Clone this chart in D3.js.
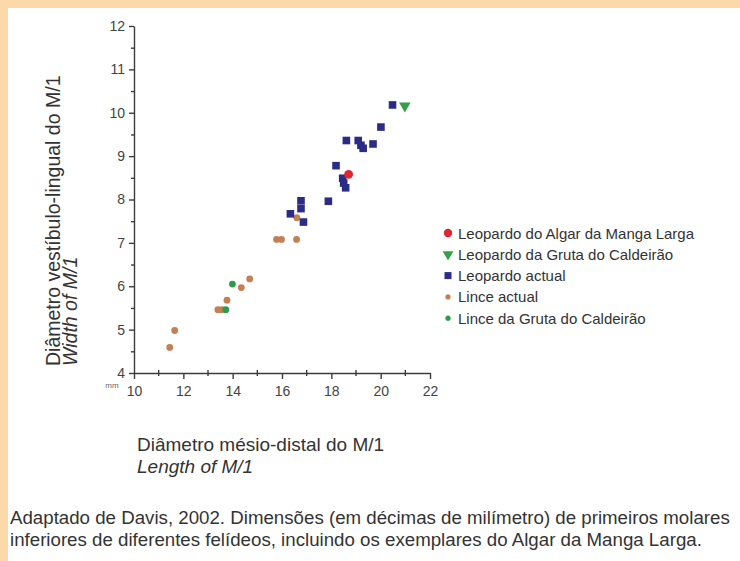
<!DOCTYPE html>
<html lang="pt">
<head>
  <meta charset="UTF-8">
  <title>Dimensões de M/1 em felídeos</title>
  <script src="https://d3js.org/d3.v7.min.js"></script>
  <style>
    body { margin: 0; background: #fff; }
    svg text { font-family: "Liberation Sans", Arial, sans-serif; fill: #333; }
    .axis path, .axis line { stroke: #3c3c3c; stroke-width: 1.4px; }
    .axis text { font-size: 14px; fill: #444; }
  </style>
</head>
<body>
  <svg id="chart" width="740" height="561"></svg>

  <script>
    // values
    const leopardoAlgar = [[18.7, 8.58]];
    const leopardoCaldeirao = [[20.98, 10.16]];
    const leopardoActual = [
      [20.48, 10.18], [20.01, 9.67], [18.61, 9.36], [19.09, 9.36], [19.2, 9.25],
      [19.29, 9.18], [19.69, 9.28], [18.19, 8.78], [18.46, 8.49], [18.5, 8.38],
      [18.58, 8.27], [16.77, 7.97], [17.88, 7.96], [16.77, 7.79], [16.34, 7.67],
      [16.87, 7.48]
    ];
    const linceActual = [
      [16.6, 7.58], [15.78, 7.08], [15.98, 7.08], [16.59, 7.08], [14.69, 6.17],
      [14.35, 5.97], [13.77, 5.68], [13.4, 5.46], [13.56, 5.46], [11.65, 4.98],
      [11.45, 4.59]
    ];
    const linceCaldeirao = [[13.99, 6.05], [13.72, 5.46]];

    const xMajor = [10, 12, 14, 16, 18, 20, 22];
    const xMinor = [11, 13, 15, 17, 19, 21];
    const yMajor = [4, 5, 6, 7, 8, 9, 10, 11, 12];
    const yMinor = [4.5, 5.5, 6.5, 7.5, 8.5, 9.5, 10.5, 11.5];

    const legendLabels = [
      "Leopardo do Algar da Manga Larga",
      "Leopardo da Gruta do Caldeirão",
      "Leopardo actual",
      "Lince actual",
      "Lince da Gruta do Caldeirão"
    ];

    const svg = d3.select("#chart");

    // peach frame on top and left
    svg.append("rect").attr("x", 0).attr("y", 0).attr("width", 740).attr("height", 8).attr("fill", "#fdd8a8");
    svg.append("rect").attr("x", 0).attr("y", 0).attr("width", 8).attr("height", 561).attr("fill", "#fdd8a8");

    const x = d3.scaleLinear().domain([10, 22]).range([134, 430]);
    const y = d3.scaleLinear().domain([4, 12]).range([373, 26]);

    // y axis
    svg.append("g")
      .attr("class", "axis")
      .attr("transform", "translate(134,0)")
      .call(d3.axisLeft(y).tickValues(yMajor).tickSize(5).tickSizeOuter(0).tickPadding(4).tickFormat(d3.format("d")));
    svg.append("g")
      .attr("class", "axis")
      .attr("transform", "translate(134,0)")
      .call(d3.axisLeft(y).tickValues(yMinor).tickSize(3).tickSizeOuter(0).tickFormat(""))
      .select(".domain").remove();

    // x axis
    svg.append("g")
      .attr("class", "axis")
      .attr("transform", "translate(0,373)")
      .call(d3.axisBottom(x).tickValues(xMajor).tickSize(6).tickSizeOuter(0).tickPadding(7).tickFormat(d3.format("d")));
    svg.append("g")
      .selectAll("line")
      .data(xMinor)
      .join("line")
      .attr("x1", d => x(d)).attr("x2", d => x(d))
      .attr("y1", 370).attr("y2", 376)
      .attr("stroke", "#3c3c3c").attr("stroke-width", 1.4);

    svg.append("text")
      .attr("x", 112).attr("y", 388)
      .attr("text-anchor", "middle")
      .style("font-size", "8px").style("fill", "#666")
      .text("mm");

    // axis titles
    const yTitle = svg.append("text")
      .attr("transform", "translate(60,366) rotate(-90)")
      .style("font-size", "19.5px");
    yTitle.append("tspan").attr("x", 0).attr("dy", 0).text("Diâmetro vestíbulo-lingual do M/1");
    yTitle.append("tspan").attr("x", 0).attr("dy", 17).style("font-style", "italic").text("Width of M/1");

    const xTitle = svg.append("text")
      .attr("x", 137).attr("y", 451)
      .style("font-size", "19px");
    xTitle.append("tspan").attr("x", 137).attr("dy", 0).text("Diâmetro mésio-distal do M/1");
    xTitle.append("tspan").attr("x", 137).attr("dy", 22).style("font-style", "italic").text("Length of M/1");

    // points
    const plot = svg.append("g");

    plot.selectAll(".lince")
      .data(linceActual)
      .join("circle")
      .attr("class", "lince")
      .attr("cx", d => x(d[0])).attr("cy", d => y(d[1]))
      .attr("r", 3.4)
      .attr("fill", "#c47f54");

    plot.selectAll(".lince-cald")
      .data(linceCaldeirao)
      .join("circle")
      .attr("class", "lince-cald")
      .attr("cx", d => x(d[0])).attr("cy", d => y(d[1]))
      .attr("r", 3.4)
      .attr("fill", "#2f9a4e");

    plot.selectAll(".leo")
      .data(leopardoActual)
      .join("rect")
      .attr("class", "leo")
      .attr("x", d => x(d[0]) - 3.8).attr("y", d => y(d[1]) - 3.8)
      .attr("width", 7.6).attr("height", 7.6)
      .attr("fill", "#2b2c86");

    plot.selectAll(".leo-algar")
      .data(leopardoAlgar)
      .join("circle")
      .attr("class", "leo-algar")
      .attr("cx", d => x(d[0])).attr("cy", d => y(d[1]))
      .attr("r", 4.4)
      .attr("fill", "#e0262e");

    const tri = d3.symbol().type(d3.symbolTriangle).size(58);
    plot.selectAll(".leo-cald")
      .data(leopardoCaldeirao)
      .join("path")
      .attr("class", "leo-cald")
      .attr("d", tri)
      .attr("transform", d => `translate(${x(d[0])},${y(d[1])}) rotate(180)`)
      .attr("fill", "#33a045");

    // legend
    const legend = svg.append("g").attr("transform", "translate(448,233)");
    const rows = legend.selectAll("g")
      .data(legendLabels)
      .join("g")
      .attr("transform", (d, i) => `translate(0,${i * 21.3})`);

    rows.append("text")
      .attr("x", 10).attr("y", 5.5)
      .style("font-size", "15px")
      .text(d => d);

    rows.filter((d, i) => i === 0).append("circle").attr("r", 4.2).attr("fill", "#e0262e");
    rows.filter((d, i) => i === 1).append("path")
      .attr("d", d3.symbol().type(d3.symbolTriangle).size(50))
      .attr("transform", "rotate(180)")
      .attr("fill", "#33a045");
    rows.filter((d, i) => i === 2).append("rect")
      .attr("x", -3.5).attr("y", -3.5).attr("width", 7).attr("height", 7).attr("fill", "#2b2c86");
    rows.filter((d, i) => i === 3).append("circle").attr("r", 2.6).attr("fill", "#c47f54");
    rows.filter((d, i) => i === 4).append("circle").attr("r", 2.6).attr("fill", "#2f9a4e");

    // caption
    const caption = svg.append("text")
      .attr("x", 10).attr("y", 524)
      .style("font-size", "18.7px");
    caption.append("tspan").attr("x", 10).attr("dy", 0)
      .text("Adaptado de Davis, 2002. Dimensões (em décimas de milímetro) de primeiros molares");
    caption.append("tspan").attr("x", 10).attr("dy", 22)
      .text("inferiores de diferentes felídeos, incluindo os exemplares do Algar da Manga Larga.");
  </script>
</body>
</html>
